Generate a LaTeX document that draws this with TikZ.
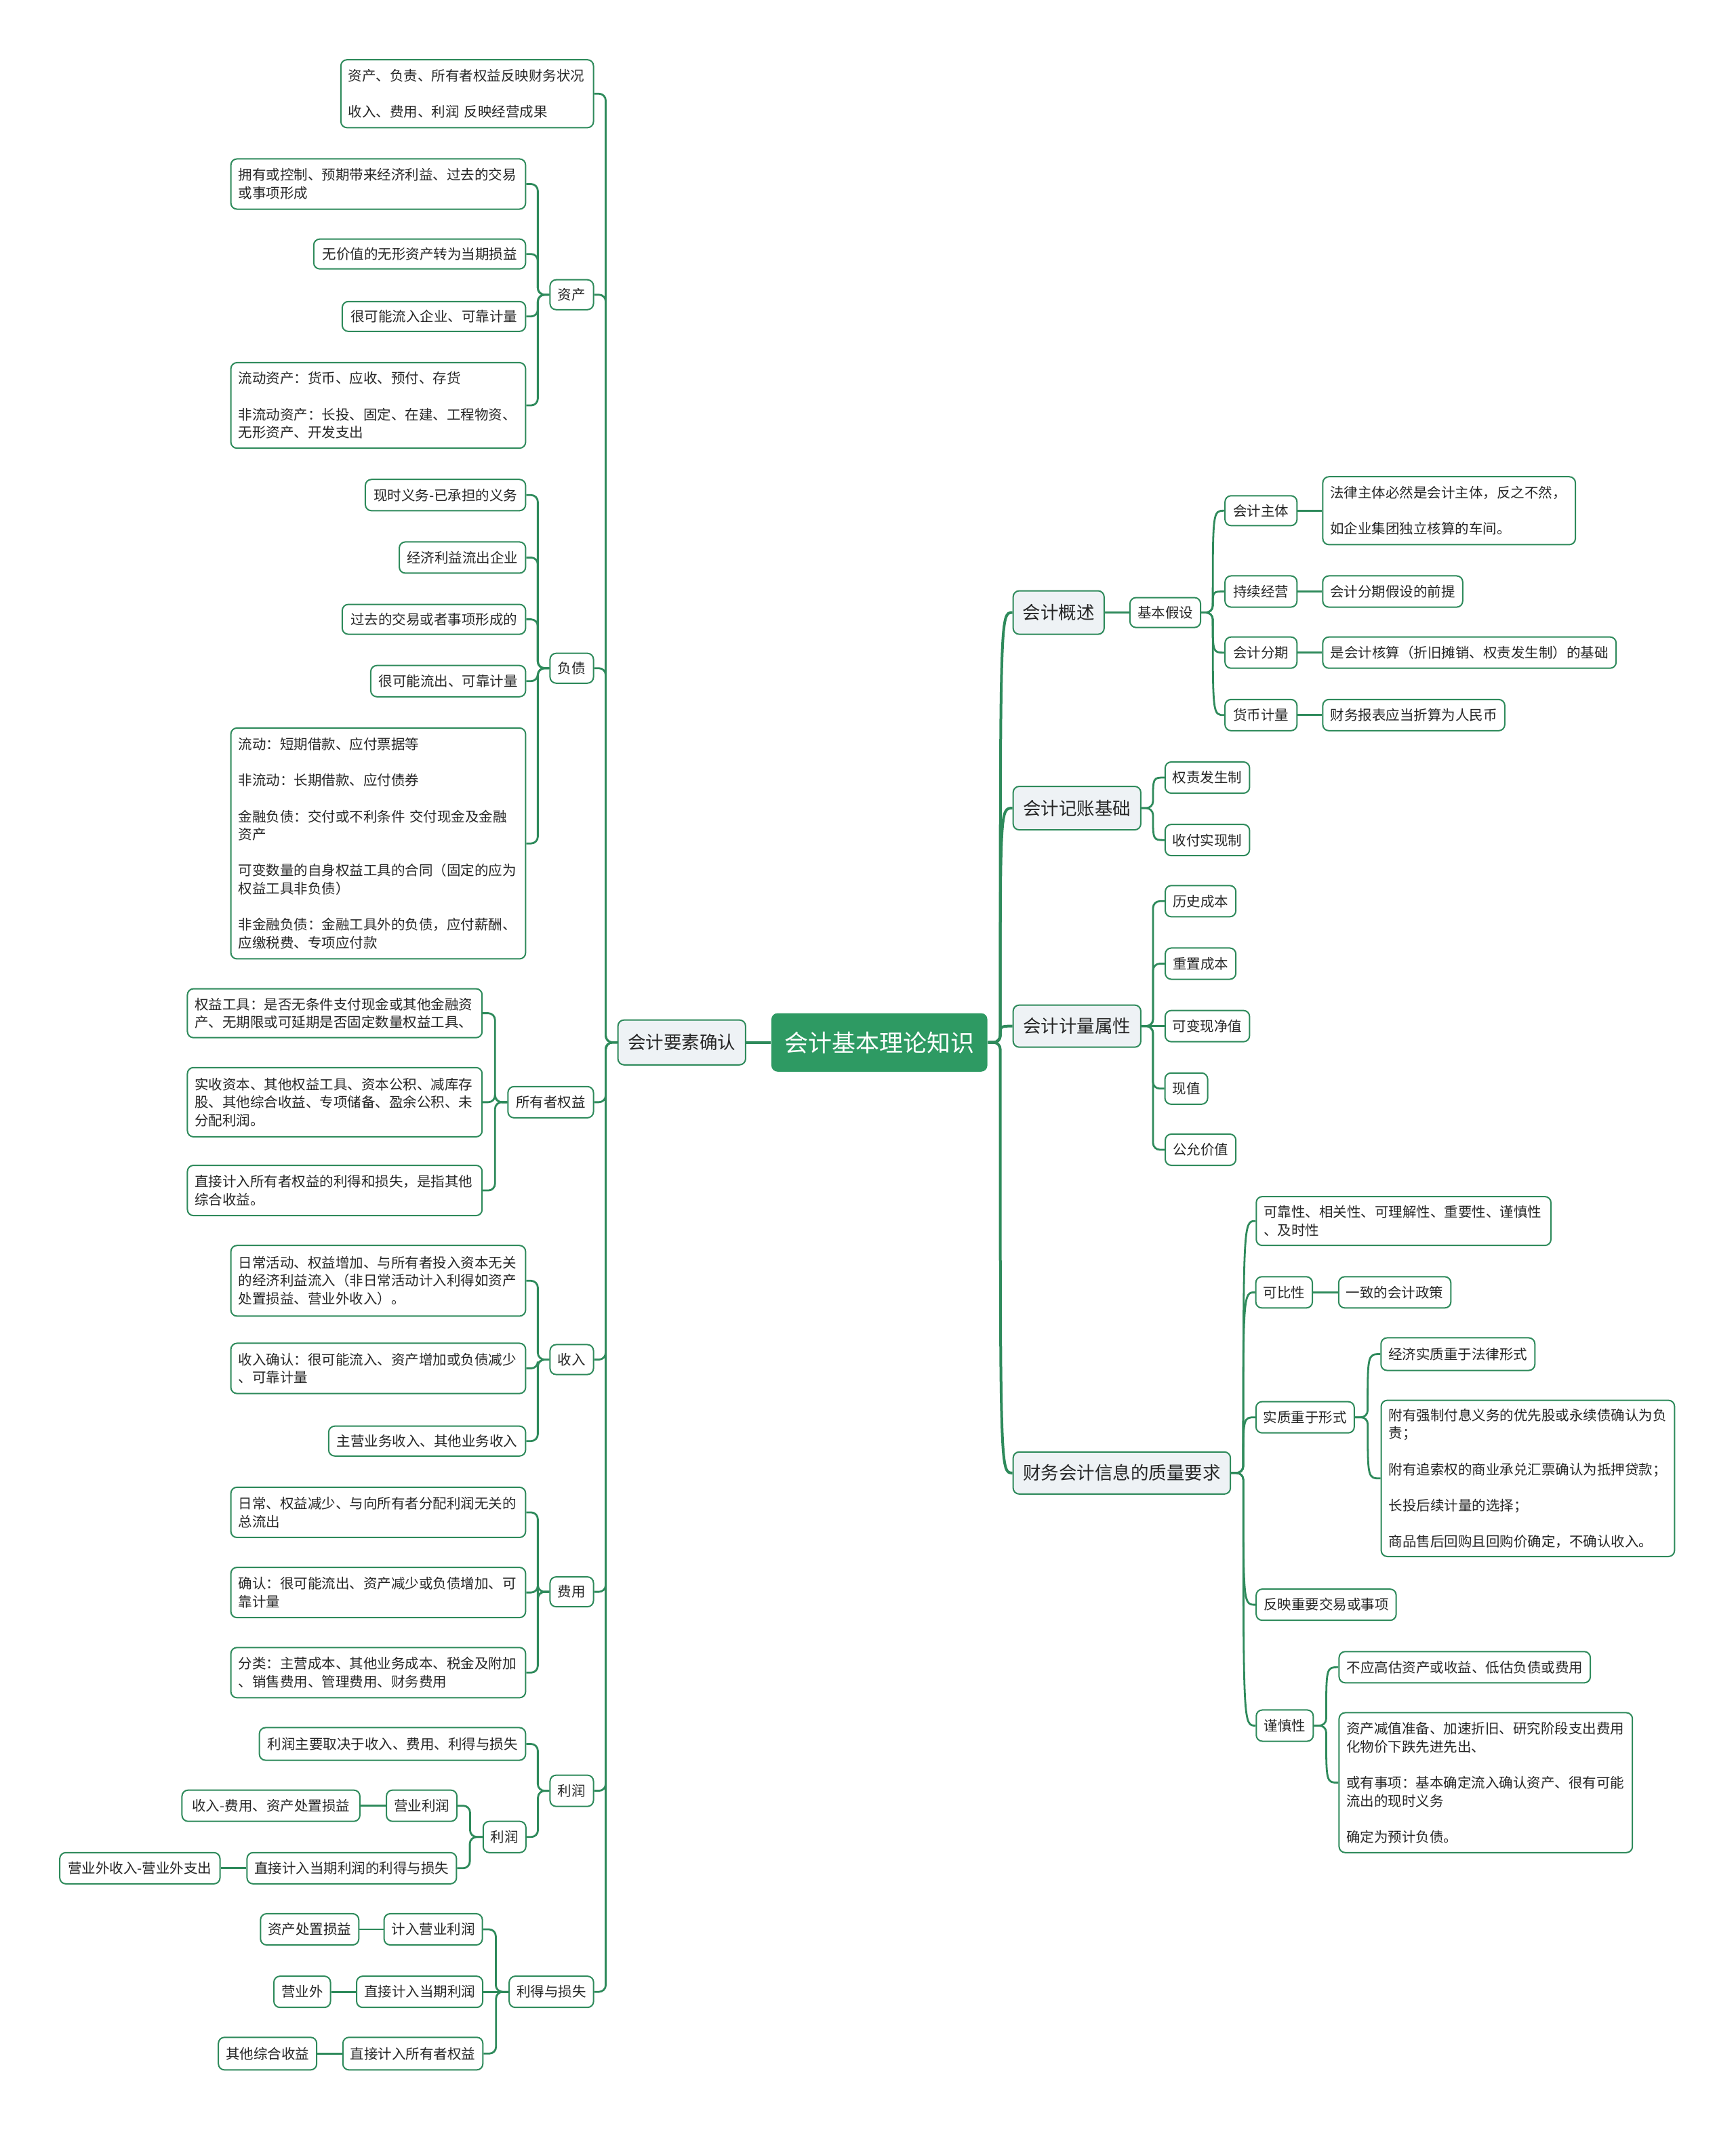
\documentclass[tikz,border=0pt]{standalone}
\usepackage{fontspec}
\newfontfamily\cjk{Noto Sans CJK SC}
\usetikzlibrary{calc}
\definecolor{G}{HTML}{2E8A5B}
\definecolor{GR}{HTML}{2E9A63}
\definecolor{LB}{HTML}{EEF2F5}
\definecolor{TX}{HTML}{262626}
\def\SCL{2.0035}
\newcommand\bx[7]{%
  \pgfmathsetmacro\bxW{(#4-#3)*\SCL}%
  \pgfmathsetmacro\bxH{(#6-#5)*\SCL}%
  \node[#1,minimum width=\bxW pt,minimum height=\bxH pt] (#2) at ({(#3+#4)/2},{(#5+#6)/2}) {#7};}
\newcommand\mbx[7]{%
  \pgfmathsetmacro\bxW{(#4-#3)*\SCL}%
  \pgfmathsetmacro\bxH{(#6-#5)*\SCL}%
  \pgfmathsetmacro\bxT{\bxW-22}%
  \node[#1,minimum width=\bxW pt,minimum height=\bxH pt,align=left,text width=\bxT pt] (#2) at ({(#3+#4)/2},{(#5+#6)/2}) {#7};}
\newcommand\lc[2]{\coordinate (mm) at ($(#1.west)!.5!(#2.east)$);
  \draw[conn] (#1.west) -- (mm |- #1.west) -- (mm |- #2.east) -- (#2.east);}
\newcommand\rc[2]{\coordinate (mm) at ($(#1.east)!.5!(#2.west)$);
  \draw[conn] (#1.east) -- (mm |- #1.east) -- (mm |- #2.west) -- (#2.west);}
\newcommand\rcv[3][]{\coordinate (mm) at ($(#2.east)!.5!(#3.west)$);
  \draw[conn,#1] (#2.east) -- (mm |- #2.east) .. controls (mm |- #3.west) .. (#3.west);}
\newcommand\lh[2]{\draw[conn] (#1.west) -- (#2.east);}
\newcommand\rh[2]{\draw[conn] (#1.east) -- (#2.west);}
\begin{document}
\begin{tikzpicture}[x=2.0035pt,y=-2.0035pt,
  leaf/.style={draw=G,line width=2pt,rounded corners=9pt,fill=white,text=TX,inner xsep=11pt,inner ysep=0pt,font=\cjk\fontsize{20.5pt}{26.6pt}\selectfont},
  ltwo/.style={leaf,fill=LB,font=\cjk\fontsize{26.5pt}{32pt}\selectfont},
  root/.style={leaf,draw=none,fill=GR,text=white,font=\cjk\fontsize{35pt}{42pt}\selectfont},
  conn/.style={draw=G,line width=2.8pt,rounded corners=10pt},
  thick conn/.style={line width=4pt}]
\useasboundingbox[fill=white] (0,0) rectangle (1277.77,1568.26);

% root and left main
\bx{root}{root}{568}{727}{746}{789}{会计基本理论知识}
\bx{ltwo}{yq}{455}{549}{751}{784}{会计要素确认}

\mbx{leaf}{a0}{251}{437}{44}{94}{资产、负责、所有者权益反映财务状况\\[26.6pt]收入、费用、利润 反映经营成果}

\bx{leaf}{zc}{405}{437}{206}{228}{资产}
\mbx{leaf}{zc1}{170}{387}{117}{154}{拥有或控制、预期带来经济利益、过去的交易\\或事项形成}
\bx{leaf}{zc2}{231}{387}{176}{198}{无价值的无形资产转为当期损益}
\bx{leaf}{zc3}{252}{387}{222}{244}{很可能流入企业、可靠计量}
\mbx{leaf}{zc4}{170}{387}{267}{330}{流动资产：货币、应收、预付、存货\\[26.6pt]非流动资产：长投、固定、在建、工程物资、\\无形资产、开发支出}

\bx{leaf}{fz}{405}{437}{481}{503}{负债}
\bx{leaf}{fz1}{269}{387}{353}{376}{现时义务-已承担的义务}
\bx{leaf}{fz2}{294}{387}{399}{422}{经济利益流出企业}
\bx{leaf}{fz3}{252}{387}{445}{467}{过去的交易或者事项形成的}
\bx{leaf}{fz4}{273}{387}{490}{513}{很可能流出、可靠计量}
\mbx{leaf}{fz5}{170}{387}{536}{706}{流动：短期借款、应付票据等\\[26.6pt]非流动：长期借款、应付债券\\[26.6pt]金融负债：交付或不利条件 交付现金及金融\\资产\\[26.6pt]可变数量的自身权益工具的合同（固定的应为\\权益工具非负债）\\[26.6pt]非金融负债：金融工具外的负债，应付薪酬、\\应缴税费、专项应付款}

\bx{leaf}{sy}{374}{437}{800}{823}{所有者权益}
\mbx{leaf}{sy1}{138}{355}{728}{764}{权益工具：是否无条件支付现金或其他金融资\\产、无期限或可延期是否固定数量权益工具、}
\mbx{leaf}{sy2}{138}{355}{786}{837}{实收资本、其他权益工具、资本公积、减库存\\股、其他综合收益、专项储备、盈余公积、未\\分配利润。}
\mbx{leaf}{sy3}{138}{355}{858}{895}{直接计入所有者权益的利得和损失，是指其他\\综合收益。}

\bx{leaf}{sr}{405}{437}{990}{1012}{收入}
\mbx{leaf}{sr1}{170}{387}{917}{969}{日常活动、权益增加、与所有者投入资本无关\\的经济利益流入（非日常活动计入利得如资产\\处置损益、营业外收入）。}
\mbx{leaf}{sr2}{170}{387}{989}{1026}{收入确认：很可能流入、资产增加或负债减少\\、可靠计量}
\bx{leaf}{sr3}{242}{387}{1050}{1072}{主营业务收入、其他业务收入}

\bx{leaf}{fy}{405}{437}{1161}{1183}{费用}
\mbx{leaf}{fy1}{170}{387}{1095}{1132}{日常、权益减少、与向所有者分配利润无关的\\总流出}
\mbx{leaf}{fy2}{170}{387}{1154}{1191}{确认：很可能流出、资产减少或负债增加、可\\靠计量}
\mbx{leaf}{fy3}{170}{387}{1213}{1250}{分类：主营成本、其他业务成本、税金及附加\\、销售费用、管理费用、财务费用}

\bx{leaf}{lr}{405}{437}{1307}{1330}{利润}
\bx{leaf}{lr1}{191}{387}{1272}{1296}{利润主要取决于收入、费用、利得与损失}
\bx{leaf}{lr2}{356}{387}{1341}{1364}{利润}
\bx{leaf}{lr21}{285}{336}{1318}{1341}{营业利润}
\bx{leaf}{lr211}{134}{265}{1318}{1341}{收入-费用、资产处置损益}
\bx{leaf}{lr22}{182}{336}{1364}{1387}{直接计入当期利润的利得与损失}
\bx{leaf}{lr221}{44}{162}{1364}{1387}{营业外收入-营业外支出}

\bx{leaf}{ld}{375}{437}{1455}{1478}{利得与损失}
\bx{leaf}{ld1}{283}{355}{1409}{1432}{计入营业利润}
\bx{leaf}{ld11}{192}{264}{1409}{1432}{资产处置损益}
\bx{leaf}{ld2}{263}{355}{1455}{1478}{直接计入当期利润}
\bx{leaf}{ld21}{202}{243}{1455}{1478}{营业外}
\bx{leaf}{ld3}{253}{355}{1500}{1524}{直接计入所有者权益}
\bx{leaf}{ld31}{161}{233}{1500}{1524}{其他综合收益}

% right side
\bx{ltwo}{gs}{746}{813}{435}{467}{会计概述}
\bx{leaf}{jb}{832}{884}{440}{462}{基本假设}
\bx{leaf}{b1}{902}{955}{365}{387}{会计主体}
\mbx{leaf}{b11}{974}{1160}{351}{401}{法律主体必然是会计主体，反之不然，\\[26.6pt]如企业集团独立核算的车间。}
\bx{leaf}{b2}{902}{955}{424}{447}{持续经营}
\bx{leaf}{b21}{974}{1077}{424}{447}{会计分期假设的前提}
\bx{leaf}{b3}{902}{955}{469}{492}{会计分期}
\bx{leaf}{b31}{974}{1190}{469}{492}{是会计核算（折旧摊销、权责发生制）的基础}
\bx{leaf}{b4}{902}{955}{515}{538}{货币计量}
\bx{leaf}{b41}{974}{1108}{515}{538}{财务报表应当折算为人民币}

\bx{ltwo}{jz}{746}{840}{579}{611}{会计记账基础}
\bx{leaf}{j1}{858}{920}{561}{584}{权责发生制}
\bx{leaf}{j2}{858}{920}{607}{630}{收付实现制}

\bx{ltwo}{jl}{746}{840}{740}{771}{会计计量属性}
\bx{leaf}{m1}{858}{910}{652}{675}{历史成本}
\bx{leaf}{m2}{858}{910}{698}{721}{重置成本}
\bx{leaf}{m3}{858}{920}{744}{767}{可变现净值}
\bx{leaf}{m4}{858}{889}{790}{813}{现值}
\bx{leaf}{m5}{858}{910}{835}{858}{公允价值}

\bx{ltwo}{zl}{746}{906}{1069}{1100}{财务会计信息的质量要求}
\mbx{leaf}{q1}{925}{1142}{881}{917}{可靠性、相关性、可理解性、重要性、谨慎性\\、及时性}
\bx{leaf}{q2}{925}{966}{940}{963}{可比性}
\bx{leaf}{q21}{986}{1068}{940}{963}{一致的会计政策}
\bx{leaf}{q3}{925}{997}{1032}{1055}{实质重于形式}
\bx{leaf}{q31}{1017}{1130}{985}{1009}{经济实质重于法律形式}
\mbx{leaf}{q32}{1017}{1233}{1031}{1146}{附有强制付息义务的优先股或永续债确认为负\\责；\\[26.6pt]附有追索权的商业承兑汇票确认为抵押贷款；\\[26.6pt]长投后续计量的选择；\\[26.6pt]商品售后回购且回购价确定，不确认收入。}
\bx{leaf}{q4}{925}{1028}{1170}{1193}{反映重要交易或事项}
\bx{leaf}{q5}{925}{967}{1259}{1282}{谨慎性}
\bx{leaf}{q51}{986}{1171}{1216}{1239}{不应高估资产或收益、低估负债或费用}
\mbx{leaf}{q52}{986}{1202}{1261}{1364}{资产减值准备、加速折旧、研究阶段支出费用\\化物价下跌先进先出、\\[26.6pt]或有事项：基本确定流入确认资产、很有可能\\流出的现时义务\\[26.6pt]确定为预计负债。}

% connectors left
\draw[conn,thick conn] (root.west) -- (yq.east);
\lc{yq}{a0}\lc{yq}{zc}\lc{yq}{fz}\lc{yq}{sy}\lc{yq}{sr}\lc{yq}{fy}\lc{yq}{lr}\lc{yq}{ld}
\lc{zc}{zc1}\lc{zc}{zc2}\lc{zc}{zc3}\lc{zc}{zc4}
\lc{fz}{fz1}\lc{fz}{fz2}\lc{fz}{fz3}\lc{fz}{fz4}\lc{fz}{fz5}
\lc{sy}{sy1}\lc{sy}{sy2}\lc{sy}{sy3}
\lc{sr}{sr1}\lc{sr}{sr2}\lc{sr}{sr3}
\lc{fy}{fy1}\lc{fy}{fy2}\lc{fy}{fy3}
\lc{lr}{lr1}\lc{lr}{lr2}
\lc{lr2}{lr21}\lc{lr2}{lr22}
\lh{lr21}{lr211}\lh{lr22}{lr221}
\lc{ld}{ld1}\lh{ld}{ld2}\lc{ld}{ld3}
\lh{ld1}{ld11}\lh{ld2}{ld21}\lh{ld3}{ld31}

% connectors right
\rcv[thick conn]{root}{gs}\rcv[thick conn]{root}{jz}\rcv[thick conn]{root}{jl}\rcv[thick conn]{root}{zl}
\rh{gs}{jb}
\rcv{jb}{b1}\rcv{jb}{b2}\rcv{jb}{b3}\rcv{jb}{b4}
\rh{b1}{b11}\rh{b2}{b21}\rh{b3}{b31}\rh{b4}{b41}
\rcv{jz}{j1}\rcv{jz}{j2}
\rc{jl}{m1}\rc{jl}{m2}\rh{jl}{m3}\rc{jl}{m4}\rc{jl}{m5}
\rcv{zl}{q1}\rcv{zl}{q2}\rcv{zl}{q3}\rcv{zl}{q4}\rcv{zl}{q5}
\rh{q2}{q21}
\rcv{q3}{q31}\rcv{q3}{q32}
\rcv{q5}{q51}\rcv{q5}{q52}
\end{tikzpicture}
\end{document}
